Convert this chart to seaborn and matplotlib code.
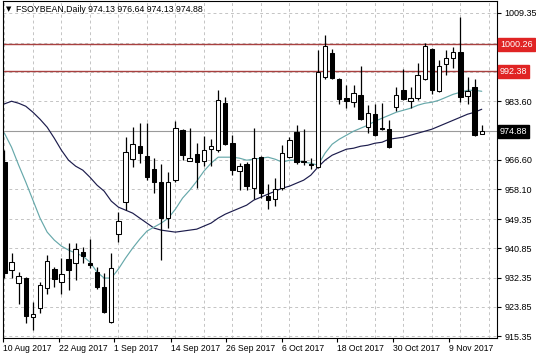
import numpy as np
import pandas as pd
import matplotlib
matplotlib.use("Agg")
import matplotlib.pyplot as plt
import seaborn as sns

# ---------------- data ----------------
opens = [965.93, 934.54, 930.76, 932.21, 920.87, 923.49, 929.30, 934.83, 931.05, 937.73,
         936.57, 939.77, 936.57, 933.95, 929.59, 919.42, 945.00, 954.30, 966.80, 970.58,
         967.68, 963.90, 960.12, 949.65, 960.70, 975.24, 966.22, 968.26, 966.22, 969.71,
         969.42, 983.08, 971.45, 963.32, 965.35, 958.37, 967.39, 956.05, 955.18, 958.37,
         967.39, 974.65, 966.22, 965.35, 964.48, 990.64, 997.62, 990.06, 984.54, 983.37,
         985.41, 976.11, 979.89, 975.82, 975.53, 981.92, 986.86, 983.67, 984.54, 990.06,
         998.78, 986.57, 994.42, 996.17, 997.91, 985.12, 987.73, 974.13]
highs = [969.42, 939.48, 933.95, 932.50, 925.23, 931.05, 938.90, 935.41, 938.02, 942.39,
         942.39, 941.22, 943.55, 935.41, 933.66, 939.48, 951.40, 973.20, 976.11, 977.27,
         977.27, 967.10, 965.35, 963.02, 977.85, 975.53, 975.82, 971.45, 973.49, 972.62,
         986.86, 984.83, 973.78, 965.64, 965.93, 975.82, 967.68, 959.54, 961.28, 970.87,
         973.20, 976.69, 975.53, 967.10, 998.49, 1002.85, 998.78, 990.35, 988.32, 988.32,
         993.84, 982.50, 982.79, 983.08, 978.14, 987.73, 992.97, 987.73, 994.71, 1000.52,
         999.07, 995.59, 998.49, 999.36, 1008.08, 990.64, 990.06, 976.64]
lows = [932.21, 932.21, 924.65, 919.00, 917.09, 922.04, 927.56, 929.59, 927.56, 928.72,
        931.63, 936.57, 935.12, 929.01, 922.04, 919.13, 942.68, 951.98, 964.48, 965.64,
        960.70, 956.92, 937.44, 946.75, 960.12, 966.51, 966.22, 958.37, 964.77, 964.77,
        968.84, 970.87, 962.15, 957.79, 957.79, 955.18, 955.47, 952.27, 953.14, 957.79,
        967.10, 965.35, 965.06, 963.90, 964.19, 990.06, 990.06, 982.79, 981.63, 981.92,
        978.14, 974.36, 973.49, 975.24, 970.00, 980.76, 983.96, 981.63, 983.96, 989.77,
        985.70, 986.28, 991.22, 993.26, 983.37, 982.79, 973.49, 974.13]
closes = [933.66, 936.86, 932.79, 921.04, 921.75, 930.18, 937.15, 931.92, 933.37, 934.54,
          940.64, 938.61, 935.99, 929.59, 922.33, 935.12, 948.78, 968.84, 971.16, 968.55,
          961.57, 960.12, 949.65, 960.12, 975.82, 967.97, 967.10, 965.93, 969.42, 970.58,
          983.96, 971.16, 963.61, 964.77, 958.95, 967.10, 956.92, 954.89, 958.08, 968.55,
          972.33, 965.93, 965.93, 965.06, 992.10, 999.65, 990.35, 984.25, 983.67, 985.99,
          978.43, 980.18, 973.78, 975.53, 970.29, 985.41, 984.25, 984.54, 991.22, 999.65,
          986.86, 993.84, 996.17, 997.91, 984.83, 986.57, 973.78, 974.88]

ma_fast = [974.36, 970.29, 965.06, 960.12, 954.89, 949.65, 945.58, 943.26, 941.51, 940.35,
           939.48, 938.61, 936.86, 933.95, 932.21, 932.21, 934.83, 938.02, 940.93, 943.55,
           945.87, 947.04, 948.20, 949.65, 952.27, 955.47, 957.79, 960.41, 963.32, 965.64,
           967.39, 967.39, 967.39, 967.10, 966.51, 966.80, 967.10, 967.39, 966.80, 965.93,
           966.51, 966.51, 965.93, 965.64, 965.06, 968.55, 971.16, 972.62, 973.78, 974.94,
           975.82, 976.69, 977.85, 978.72, 979.59, 980.47, 981.05, 981.63, 982.50, 983.08,
           983.37, 983.96, 984.83, 985.70, 986.28, 986.86, 986.86, 986.57]
ma_slow = [982.90, 983.67, 983.08, 982.21, 980.47, 978.43, 976.11, 972.91, 969.42, 966.51,
           964.77, 963.61, 961.57, 959.25, 957.50, 954.60, 952.85, 951.98, 951.11, 949.65,
           948.20, 946.75, 946.16, 945.87, 945.58, 945.87, 946.16, 946.45, 947.33, 948.20,
           949.65, 950.81, 951.69, 952.56, 953.43, 954.89, 955.76, 956.63, 957.50, 958.37,
           958.95, 959.83, 960.70, 962.15, 964.48, 966.51, 967.97, 968.84, 969.71, 970.00,
           970.58, 970.87, 971.45, 971.74, 972.62, 972.91, 973.20, 973.78, 974.36, 974.94,
           975.53, 976.40, 977.27, 978.14, 979.01, 979.89, 980.47, 981.34]

date_labels = ["10 Aug 2017", "22 Aug 2017", "1 Sep 2017", "14 Sep 2017", "26 Sep 2017",
               "6 Oct 2017", "18 Oct 2017", "30 Oct 2017", "9 Nov 2017"]
date_pos = [-0.2, 7.6, 15.4, 23.4, 31.1, 39.0, 46.7, 54.6, 62.4]

price_grid = [915.35, 923.85, 932.35, 940.85, 949.35, 958.10, 966.60, 975.10,
              983.60, 992.10, 1000.60, 1009.35]
price_labels = ["915.35", "923.85", "932.35", "940.85", "949.35", "958.10", "966.60", "",
                "983.60", "", "", "1009.35"]
levels = [1000.26, 992.38]
last_price = 974.88
title = "FSOYBEAN,Daily 974.13 976.64 974.13 974.88"

# ---------------- style ----------------
sns.set_style("white")
plt.rcParams["font.family"] = ["Liberation Sans", "DejaVu Sans"]

W, H = 536, 357
fig = plt.figure(figsize=(W / 100, H / 100), dpi=100)
ax = fig.add_axes([3 / W, 19 / H, 494 / W, 337 / H])

df = pd.DataFrame({"bar": np.arange(len(opens)), "open": opens, "high": highs,
                   "low": lows, "close": closes, "fast": ma_fast, "slow": ma_slow})

ax.set_xlim(-0.14, 69.14)
ax.set_ylim(914.77, 1012.84)

grid_kw = dict(color="#c4c4c4", lw=0.7, ls=(0, (3, 3)), zorder=0)
for g in price_grid:
    ax.axhline(g, **grid_kw)
for gx in range(0, 72, 4):
    ax.axvline(gx, **grid_kw)

# levels and bid line
for lv in levels:
    ax.axhline(lv, color="#a8403f", lw=1.0, zorder=1)
ax.axhline(last_price, color="#9a9a9a", lw=0.8, zorder=1)

# moving averages
sns.lineplot(data=df, x="bar", y="slow", ax=ax, color="#1c1c4c", lw=0.85, zorder=2)
sns.lineplot(data=df, x="bar", y="fast", ax=ax, color="#66a8aa", lw=0.85, zorder=2)

# candles
bull = df["close"] >= df["open"]
ax.vlines(df["bar"], df["low"], df["high"], color="black", lw=0.9, zorder=3)
body_lo = np.minimum(df["open"], df["close"])
body_h = np.maximum(np.abs(df["close"] - df["open"]), 0.35)
ax.bar(df["bar"][bull], body_h[bull], bottom=body_lo[bull], width=0.62,
       color="white", edgecolor="black", linewidth=0.75, zorder=4)
ax.bar(df["bar"][~bull], body_h[~bull], bottom=body_lo[~bull], width=0.62,
       color="black", edgecolor="black", linewidth=0.75, zorder=4)

# axes
ax.set_xlabel("")
ax.set_ylabel("")
ax.yaxis.tick_right()
ax.set_yticks(price_grid)
ax.set_yticklabels(price_labels)
ax.set_xticks(date_pos)
ax.set_xticklabels(date_labels, ha="left")
ax.tick_params(axis="y", direction="out", length=3, width=0.8, pad=2.5,
               labelsize=6.5, colors="black", right=True, left=False)
ax.tick_params(axis="x", direction="out", length=3, width=0.8, pad=1.5,
               labelsize=6.2, colors="black", bottom=True)
for lab in ax.get_xticklabels():
    lab.set_horizontalalignment("left")
for s in ax.spines.values():
    s.set_color("black")
    s.set_linewidth(0.8)

# price boxes on the right
trans = ax.get_yaxis_transform()
for lv in levels:
    ax.text(1.006, lv, f"{lv:.2f}", transform=trans, ha="left", va="center",
            fontsize=6.5, color="white", clip_on=False,
            bbox=dict(boxstyle="square,pad=0.22", fc="#e02424", ec="#e02424"))
ax.text(1.006, last_price, f"{last_price:.2f}", transform=trans, ha="left",
        va="center", fontsize=6.5, color="white", clip_on=False,
        bbox=dict(boxstyle="square,pad=0.22", fc="black", ec="black"))

# title
ax.text(0.006, 0.985, "\u25BC", transform=ax.transAxes, ha="left", va="top",
        fontsize=5, color="black", family=["DejaVu Sans"])
ax.text(0.026, 0.987, title, transform=ax.transAxes, ha="left", va="top",
        fontsize=6.3, color="black")

fig.savefig("out.png", dpi=100)
